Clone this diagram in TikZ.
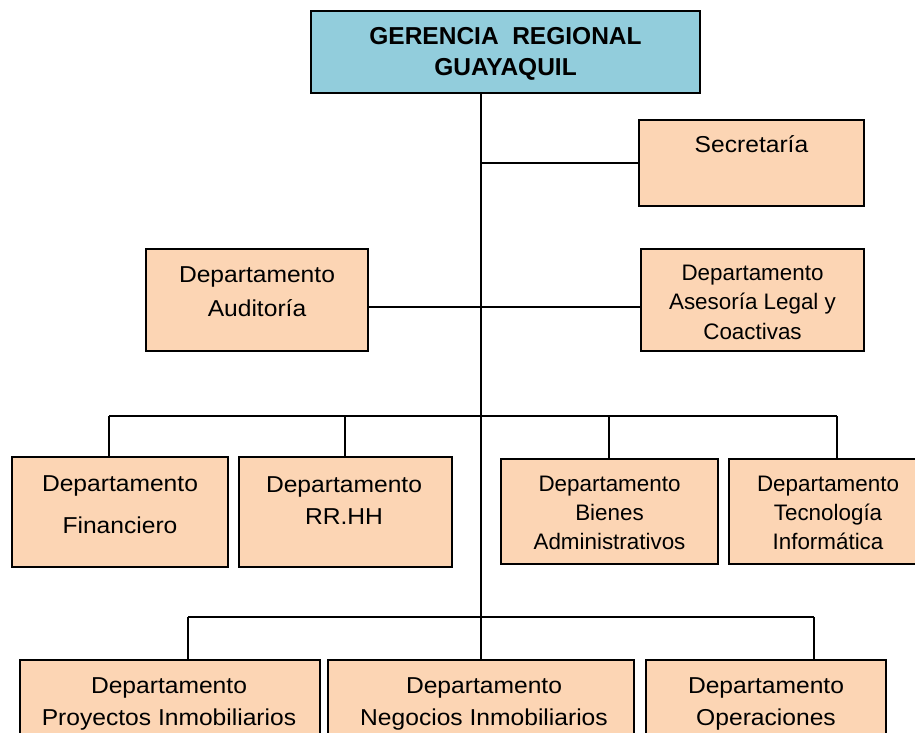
\documentclass[tikz,border=0pt]{standalone}
\usepackage{fontspec}
\setmainfont{Liberation Sans}
\newfontfamily\widefont{Liberation Sans}[FakeStretch=1.07]
\usetikzlibrary{positioning}
\definecolor{headblue}{HTML}{92CDDC}
\definecolor{deptorange}{HTML}{FCD5B4}

\begin{document}
\begin{tikzpicture}[x=1pt, y=-1pt,
    unit/.style={draw, line width=2pt, fill=deptorange, inner sep=0pt},
    link/.style={line width=1.5pt},
    txt/.style={align=center, inner sep=0pt, anchor=base, font=\widefont\fontsize{23}{#1}\selectfont},
    smalltxt/.style={align=center, inner sep=0pt, anchor=base, font=\fontsize{22.4}{#1}\selectfont}]
    \useasboundingbox (0,0) rectangle (915,733);

    % boxes
    \node (Head) at (505.5,52) [unit, fill=headblue, minimum width=389pt, minimum height=82pt] {};
    \node (Sec) at (751.5,163) [unit, minimum width=225pt, minimum height=85pt] {};
    \node (Aud) at (257,300) [unit, minimum width=222pt, minimum height=102pt] {};
    \node (Ase) at (752.5,300) [unit, minimum width=223pt, minimum height=102pt] {};

    \node (Fin) at (120,512) [unit, minimum width=216pt, minimum height=110pt] {};
    \node (RRHH) at (345,512) [unit, minimum width=213pt, minimum height=110pt] {};
    \node (Bie) at (609,511.5) [unit, minimum width=217pt, minimum height=105pt] {};
    \node (Tec) at (828,511.5) [unit, minimum width=198pt, minimum height=105pt] {};

    \node (Pro) at (170,705) [unit, minimum width=300pt, minimum height=90pt] {};
    \node (Neg) at (481,705) [unit, minimum width=306pt, minimum height=90pt] {};
    \node (Ope) at (766,705) [unit, minimum width=240pt, minimum height=90pt] {};

    % texts (base = last line)
    \node (HeadText) at (505.5,76) [align=center, inner sep=0pt, anchor=base, font=\bfseries\fontsize{24.5}{31}\selectfont] {GERENCIA\ \ REGIONAL\\GUAYAQUIL};
    \node (SecText) at (751.5,153) [txt=30] {Secretaría};
    \node (AudText) at (257,316) [txt=34] {Departamento\\Auditoría};
    \node (AseText) at (752.5,339) [smalltxt=29.5] {Departamento\\Asesoría Legal y\\Coactivas};

    \node (FinText) at (120,533) [txt=42] {Departamento\\Financiero};
    \node (RRHHText) at (344,524) [txt=32] {Departamento\\RR.HH};
    \node (BieText) at (609.5,549) [smalltxt=29] {Departamento\\Bienes\\Administrativos};
    \node (TecText) at (828,549) [smalltxt=29] {Departamento\\Tecnología\\Informática};

    \node (ProText) at (169,725) [txt=32] {Departamento\\Proyectos Inmobiliarios};
    \node (NegText) at (484,725) [txt=32] {Departamento\\Negocios Inmobiliarios};
    \node (OpeText) at (766,725) [txt=32] {Departamento\\Operaciones};

    % connectors
    \coordinate (BusA) at (109,416);
    \coordinate (BusB) at (837,416);
    \coordinate (BusC) at (188,617);
    \coordinate (BusD) at (814,617);

    \draw[link] (Head.south -| Neg.north) -- (Neg.north);
    \draw[link] (Neg.north |- Sec.west) -- (Sec.west);
    \draw[link] ([yshift=-7pt]Aud.east) -- ([yshift=-7pt]Ase.west);

    \draw[link] (BusA) -- (BusB);
    \draw[link] (BusA) -- (BusA |- Fin.north);
    \draw[link] (RRHH.north |- BusA) -- (RRHH.north);
    \draw[link] (Bie.north |- BusA) -- (Bie.north);
    \draw[link] (BusB) -- (BusB |- Tec.north);

    \draw[link] (BusC) -- (BusD);
    \draw[link] (BusC) -- (BusC |- Pro.north);
    \draw[link] (BusD) -- (BusD |- Ope.north);
\end{tikzpicture}
\end{document}
